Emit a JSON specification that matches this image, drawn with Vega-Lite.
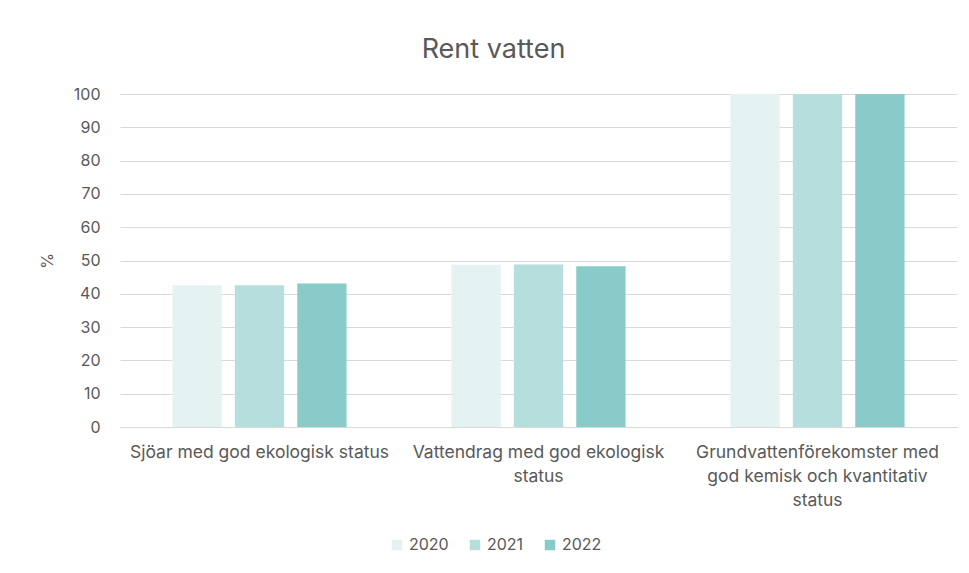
{
  "$schema": "https://vega.github.io/schema/vega-lite/v6.json",
  "width": 837,
  "height": 333,
  "autosize": {"type": "none"},
  "padding": {"left": 120, "top": 94, "right": 12, "bottom": 146},
  "background": "white",
  "title": {
    "text": "Rent vatten",
    "fontSize": 27,
    "font": "Inter",
    "fontWeight": "normal",
    "color": "#595959",
    "anchor": "middle",
    "offset": 22,
    "dx": -45
  },
  "data": {
    "values": [
      {"kategori": "Sjöar med god ekologisk status", "år": "2020", "värde": 42.6},
      {"kategori": "Sjöar med god ekologisk status", "år": "2021", "värde": 42.6},
      {"kategori": "Sjöar med god ekologisk status", "år": "2022", "värde": 43.1},
      {"kategori": "Vattendrag med god ekologisk status", "år": "2020", "värde": 48.7},
      {"kategori": "Vattendrag med god ekologisk status", "år": "2021", "värde": 48.8},
      {"kategori": "Vattendrag med god ekologisk status", "år": "2022", "värde": 48.3},
      {"kategori": "Grundvattenförekomster med god kemisk och kvantitativ status", "år": "2020", "värde": 100},
      {"kategori": "Grundvattenförekomster med god kemisk och kvantitativ status", "år": "2021", "värde": 100},
      {"kategori": "Grundvattenförekomster med god kemisk och kvantitativ status", "år": "2022", "värde": 100}
    ]
  },
  "mark": {"type": "bar"},
  "encoding": {
    "x": {
      "field": "kategori",
      "type": "nominal",
      "sort": null,
      "scale": {"paddingInner": 0.376, "paddingOuter": 0.188},
      "axis": {
        "title": null,
        "labelAngle": 0,
        "labelFontSize": 17.5,
        "labelFont": "Inter",
        "labelColor": "#595959",
        "labelPadding": 16,
        "labelLineHeight": 24,
        "labelBaseline": "top",
        "ticks": false,
        "domainColor": "#D9D9D9",
        "labelLimit": 400,
        "labelExpr": "datum.label == 'Vattendrag med god ekologisk status' ? ['Vattendrag med god ekologisk', 'status'] : datum.label == 'Grundvattenförekomster med god kemisk och kvantitativ status' ? ['Grundvattenförekomster med', 'god kemisk och kvantitativ', 'status'] : datum.label"
      }
    },
    "xOffset": {
      "field": "år",
      "type": "nominal",
      "scale": {"paddingInner": 0.21, "paddingOuter": 0}
    },
    "y": {
      "field": "värde",
      "type": "quantitative",
      "scale": {"domain": [0, 100]},
      "axis": {
        "title": "%",
        "titleFont": "Inter",
        "titleFontSize": 16,
        "titleFontWeight": "normal",
        "titleColor": "#595959",
        "titlePadding": 18,
        "values": [0, 10, 20, 30, 40, 50, 60, 70, 80, 90, 100],
        "labelFontSize": 16,
        "labelFont": "Inter",
        "labelColor": "#595959",
        "labelPadding": 20,
        "ticks": false,
        "domain": false,
        "gridColor": "#D9D9D9",
        "gridWidth": 1
      }
    },
    "color": {
      "field": "år",
      "type": "nominal",
      "scale": {"domain": ["2020", "2021", "2022"], "range": ["#E4F2F2", "#B5DEDC", "#88CBC8"]},
      "legend": {
        "title": null,
        "orient": "none",
        "legendX": 269,
        "legendY": 443,
        "direction": "horizontal",
        "symbolType": "square",
        "symbolSize": 110,
        "labelFontSize": 16,
        "labelFont": "Inter",
        "labelColor": "#595959",
        "columnPadding": 18
      }
    }
  },
  "config": {
    "view": {"stroke": null}
  }
}
